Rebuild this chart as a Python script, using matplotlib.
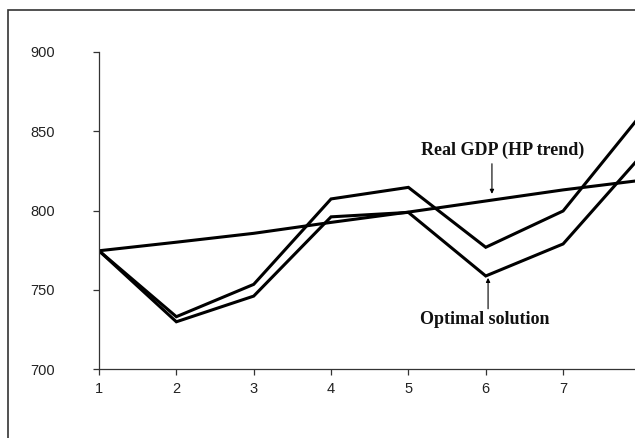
"""
Real GDP (HP trend) against the optimal solution path, periods 1-8.
"""

import matplotlib
matplotlib.use("Agg")
import matplotlib.pyplot as plt
from matplotlib.patches import Rectangle

# ───────────────────────────────────────────────────────────────
# 1) Data
# ───────────────────────────────────────────────────────────────
periods = [1, 2, 3, 4, 5, 6, 7, 8]
hp_trend = [774.6, 780.0, 785.6, 792.5, 799.0, 806.0, 813.0, 819.0]
alt_path = [774.6, 733.0, 753.4, 807.3, 814.6, 776.8, 799.7, 860.0]
optimal = [774.6, 729.8, 746.0, 796.0, 798.8, 758.7, 778.9, 834.0]

y_ticks = [700, 750, 800, 850, 900]
x_ticks = [1, 2, 3, 4, 5, 6, 7]

# ───────────────────────────────────────────────────────────────
# 2) Styling
# ───────────────────────────────────────────────────────────────
plt.rcParams.update({
    "font.family": "Liberation Sans",
    "font.size": 10.5,
    "axes.edgecolor": "#333333",
    "xtick.color": "#333333",
    "ytick.color": "#333333",
})

fig = plt.figure(figsize=(6.35, 4.38), dpi=100)
ax = fig.add_axes([0.1559, 0.1575, 0.9745, 0.7238])

# outer frame of the exhibit (left and top edges fall inside the page)
frame_left, frame_top = 8.3 / 635, 0.977
fig.patches.append(Rectangle((frame_left, -0.2), 1.5, frame_top + 0.2,
                             transform=fig.transFigure, fill=False,
                             edgecolor="#333333", linewidth=1.2, clip_on=False))

# ───────────────────────────────────────────────────────────────
# 3) Lines
# ───────────────────────────────────────────────────────────────
line_kw = dict(color="black", linewidth=2.2, solid_joinstyle="miter")
ax.plot(periods, hp_trend, **line_kw)
ax.plot(periods, alt_path, **line_kw)
ax.plot(periods, optimal, **line_kw)

ax.set_xlim(1, 9)
ax.set_ylim(700, 900)
ax.set_xticks(x_ticks)
ax.set_yticks(y_ticks)

for side in ("top", "right"):
    ax.spines[side].set_visible(False)
ax.spines["left"].set_linewidth(0.9)
ax.spines["bottom"].set_linewidth(0.9)
ax.tick_params(axis="y", direction="out", length=4.5, width=0.9, pad=27)
ax.tick_params(axis="x", direction="out", length=4.5, width=0.9, pad=5)
for lab in ax.get_xticklabels() + ax.get_yticklabels():
    lab.set_color("#222222")

# ───────────────────────────────────────────────────────────────
# 4) Annotations
# ───────────────────────────────────────────────────────────────
arrow_kw = dict(arrowstyle="-|>", color="black", lw=0.8, mutation_scale=6,
                shrinkA=0, shrinkB=0)
label_kw = dict(family="Liberation Serif", fontweight="bold", fontsize=13,
                ha="center", va="center", color="#111111")

ax.text(6.22, 838.2, "Real GDP (HP trend)", **label_kw)
ax.annotate("", xy=(6.08, 810.5), xytext=(6.08, 829.5), arrowprops=arrow_kw)

ax.text(5.99, 731.5, "Optimal solution", **label_kw)
ax.annotate("", xy=(6.03, 757.5), xytext=(6.03, 738.0), arrowprops=arrow_kw)

fig.savefig("out.png", dpi=100)
